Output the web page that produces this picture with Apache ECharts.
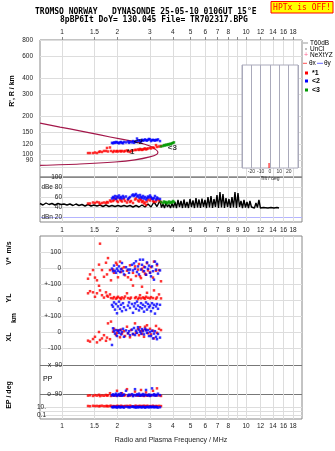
<!DOCTYPE html>
<html>
<head>
<meta charset="utf-8">
<script src="https://cdn.jsdelivr.net/npm/echarts@6/dist/echarts.min.js"></script>
<style>
html,body{margin:0;padding:0;background:#fff}
#chart{width:335px;height:451px}
</style>
</head>
<body>
<div id="chart"></div>
<script>
// Frequency axis ticks (MHz)
const freqTicks = [1, 1.5, 2, 3, 4, 5, 6, 7, 8, 10, 12, 14, 16, 18];
const freqTicksMid = [1, 1.5, 2, 3, 4, 5, 6, 7, 8, 9, 10, 12, 14, 16, 18];
const rangeTicks = [80, 90, 100, 120, 150, 200, 300, 400, 600, 800];
const dbTicks = [20, 40, 60, 80, 100];
const dbTickText = {20: 'dBn 20', 40: '40', 60: '60', 80: 'dBe 80', 100: '100'};

// O-mode echoes (*1)
const redFreq = [1.385,1.420,1.474,1.511,1.549,1.589,1.609,1.649,1.691,1.734,1.756,1.778,1.823,1.846,1.893,1.917,1.965,1.990,2.015,2.066,2.092,2.118,2.172,2.200,2.255,2.284,2.341,2.371,2.431,2.493,2.524,2.588,2.620,2.654,2.687,2.721,2.755,2.790,2.825,2.861,2.897,2.933,3.008,3.045,3.122,3.161,3.242,3.282,3.366,3.451];
const redRange = [103,103,103,104,103,105,106,105,107,107,113,106,114,107,105,107,106,107,106,107,106,107,106,107,108,106,105,107,108,109,109,110,109,111,110,109,110,111,112,110,111,112,113,112,114,113,119,115,116,117];
const redAmp = [47,47,49,48,50,49,46,48,49,48,50,49,53,51,52,54,57,52,50,55,53,51,56,52,49,54,50,52,48,55,57,53,51,56,54,50,52,47,49,44,51,55,53,57,52,50,51,55,53,50];
const redVs = [-67,-40,-13,-60,-77,21,152,-13,-55,33,-40,62,-13,-77,-10,-30,33,21,-58,40,-25,-4,5,-45,-17,-58,17,-73,-30,10,-50,-10,25,-52,-63,-5,-21,8,-35,-42,30,-15,-28,5,-60,40,-17,17,-13,-83];
const redYL = [42,55,48,20,42,89,60,30,15,48,27,21,35,12,10,18,8,14,20,12,6,16,10,22,42,12,8,15,90,12,18,6,14,30,10,83,16,12,8,20,45,14,10,18,12,60,8,16,35,10];
const redXL = [-54,-60,-44,-30,-65,0,-50,-40,-20,-55,-35,54,-45,65,2,20,-19,-5,10,-33,15,-10,5,-25,33,-8,-33,12,-15,54,-5,18,-20,30,5,-12,10,-30,33,15,42,-8,20,-15,8,-40,38,-5,20,12];
const redPP = [-100,-98,-102,-97,-100,-95,-103,-99,-101,-96,-100,-98,-85,-102,-97,-99,-100,-70,-96,-101,-98,-85,-100,-97,-60,-102,-99,-95,-100,-75,-98,-101,-97,-100,-65,-99,-96,-102,-98,-80,-100,-97,-101,-99,-70,-96,-100,-55,-98,-102];
const redEP = [18,16,20,17,19,15,18,21,16,17,19,15,18,20,16,17,15,19,18,16,20,17,15,18,19,16,21,17,15,18,20,16,17,19,15,18,16,20,17,15,19,18,16,17,21,15,18,16,19,17];

// X-mode echoes (<2)
const blueFreq = [1.869,1.893,1.917,1.941,1.965,1.990,2.015,2.041,2.066,2.092,2.118,2.145,2.172,2.227,2.284,2.313,2.341,2.401,2.431,2.462,2.493,2.524,2.556,2.588,2.620,2.654,2.687,2.721,2.755,2.790,2.825,2.861,2.897,2.933,2.970,3.008,3.045,3.084,3.122,3.161,3.200,3.242,3.282,3.324,3.408];
const blueRange = [124,123,125,124,126,125,124,123,125,126,124,123,126,125,127,124,126,125,128,124,127,126,134,129,130,128,127,131,129,130,132,130,129,131,133,132,128,130,131,130,129,131,130,132,128];
const blueAmp = [57,60,58,62,56,61,59,63,58,60,57,62,59,61,56,58,60,63,65,62,64,66,61,63,59,64,60,58,62,57,60,55,58,61,59,63,60,57,56,58,62,55,59,57,56];
const blueVs = [-4,-20,15,-17,-30,-4,-17,10,-25,-8,31,-20,-40,5,-10,-30,-10,20,-15,29,-5,42,-25,10,-40,52,-10,20,52,-20,5,-42,35,-5,15,-30,-52,10,-20,-73,40,-10,25,-35,-15];
const blueYL = [-31,-42,-15,-60,-25,-83,-40,-10,-55,-30,-70,-20,-45,-62,-35,-15,-50,-25,-80,-40,-21,-55,-10,-35,-65,-45,-20,-52,-30,-73,-40,-15,-60,-25,-45,-35,-70,-20,-50,-30,-85,-40,-25,-55,-30];
const blueXL = [-81,23,5,-10,12,-25,8,-5,12,-15,0,20,-30,10,-8,5,-20,15,-12,25,-19,8,-5,30,15,2,-10,18,5,-15,20,10,-5,12,-25,0,-25,8,-40,-10,5,-30,-45,-12,-35];
const bluePP = [-98,-92,-100,-95,-88,-102,-97,-90,-99,-85,-101,-96,-93,-70,-100,-94,-98,-91,-103,-96,-60,-99,-92,-97,-88,-101,-95,-98,-90,-100,-94,-65,-97,-99,-93,-102,-96,-55,-98,-91,-100,-95,-99,-88,-97];
const blueEP = [10,8,12,9,11,7,10,13,8,9,11,10,7,12,9,10,8,11,13,9,10,7,12,8,10,11,9,8,12,10,7,9,11,10,8,13,9,10,12,8,11,9,10,7,9];

// Third trace (<3)
const greenFreq = [3.451,3.538,3.583,3.628,3.673,3.720,3.767,3.814,3.862,3.911,3.960,4.010,4.060];
const greenRange = [116,117,119,118,120,119,121,120,122,121,123,124,125];
const greenAmp = [50,48,51,49,50,47,49,51,48,50,49,52,50];

// Trace identifiers
const traceLabels = ['*1', '<2', '<3'];
const traceFreq = [2.36, 2.60, 3.98];
const traceRange = [105, 126, 113];

// Model trace (virtual range vs frequency)
const modelFreq = [0.76,0.975,1.25,1.61,2.07,2.65,3.0,3.2,3.32,3.28,3.0,2.49,1.94,1.25,0.76];
const modelRange = [177,165,154,143,133,124,117,111,105,101,96,91,87.6,84.5,82.5];

// Noise amplitude (dB) vs frequency
const noiseFreq = [0.759,0.788,0.819,0.850,0.882,0.916,0.951,0.988,1.025,1.065,1.105,1.148,1.191,1.237,1.284,1.334,1.385,1.438,1.492,1.549,1.609,1.670,1.734,1.800,1.869,1.941,2.015,2.092,2.172,2.255,2.341,2.431,2.524,2.620,2.721,2.825,2.933,3.045,3.161,3.282,
  3.408,3.473,3.538,3.605,3.673,3.743,3.814,3.886,3.960,4.035,4.111,4.189,4.268,4.349,4.432,4.516,4.601,4.688,4.777,4.868,4.960,5.054,5.149,5.247,5.346,5.448,5.551,5.656,5.763,5.872,5.983,6.097,6.212,6.330,6.450,6.573,6.696,6.823,6.952,7.084,7.218,7.355,7.494,7.636,7.781,7.929,8.078,8.231,8.387,8.546,8.708,8.873,9.041,9.213,9.386,9.564,9.745,9.930,10.12,10.31,10.50,10.70,10.90,11.11,11.32,11.53,11.75,11.97,12.20,12.43,
  12.67,13.15,13.66,14.18,14.72,15.10];
const noiseDb = [47,44,48,45,47,44,47,45,46,44,46,43,46,43,45,42,45,42,44,42,44,41,44,41,43,41,43,41,43,41,43,40,43,40,44,40,46,40,50,41,
  53,39,46,38,48,40,45,38,47,39,50,38,54,40,52,38,55,39,50,38,56,40,53,38,58,39,55,38,57,40,54,38,60,39,62,38,56,40,64,38,70,39,66,38,58,40,56,38,60,39,70,38,68,40,52,38,54,39,50,38,52,40,44,38,48,39,54,38,42,39,
  39,38,39,38,39,38];

// Tilt marker
const tiltValues = [-1];

const FONT = '"Liberation Sans", Arial, sans-serif';
const FMIN = 0.7595, FMAX = 20.14;
const zip = (xs, ys) => xs.map((x, i) => [x, ys[i]]);

function fAxis(gi, extra) {
  return Object.assign({
    type: 'log', logBase: 10, gridIndex: gi, min: FMIN, max: FMAX,
    axisLine: {show: false}, axisTick: {show: false}, axisLabel: {show: false},
    splitLine: {show: false}
  }, extra);
}
const lbl = (extra) => Object.assign({show: true, fontSize: 6.5, color: '#222', fontFamily: FONT}, extra);
const grid = (extra) => Object.assign({show: false, containLabel: false}, extra);

function pts(xi, data, color, z) {
  return {type: 'scatter', xAxisIndex: xi, yAxisIndex: xi, data, symbol: 'rect',
    symbolSize: [2.5, 2.5], itemStyle: {color}, silent: true, z: z || 4};
}

const chart = echarts.init(document.getElementById('chart'), null, {renderer: 'canvas'});

const option = {
  animation: false,
  backgroundColor: '#fff',
  grid: [
    grid({left: 40, top: 40, width: 262, height: 137, show: true, borderColor: '#888', borderWidth: 1}),
    grid({left: 40, top: 177, width: 262, height: 45, show: true, borderColor: '#888', borderWidth: 1}),
    grid({left: 40, top: 236, width: 262, height: 183, show: true, borderColor: '#888', borderWidth: 1}),
    grid({left: 40, top: 236, width: 262, height: 48}),
    grid({left: 40, top: 284, width: 262, height: 32}),
    grid({left: 40, top: 316, width: 262, height: 32}),
    grid({left: 40, top: 348, width: 262, height: 52}),
    grid({left: 40, top: 400, width: 262, height: 19}),
    grid({left: 242, top: 65, width: 56, height: 103, show: true, borderColor: '#aab', borderWidth: 1, backgroundColor: '#fff', z: 5})
  ],
  xAxis: [
    fAxis(0, {position: 'top',
      axisTick: {show: true, customValues: freqTicksMid, length: 3, lineStyle: {color: '#888'}},
      axisLabel: lbl({customValues: freqTicks, margin: 4, formatter: v => String(v)}),
      splitLine: {show: true, lineStyle: {color: '#ddd', width: 1}}}),
    fAxis(1, {position: 'bottom',
      axisTick: {show: false, customValues: freqTicksMid},
      axisLabel: lbl({customValues: freqTicksMid, margin: 5, formatter: v => String(v)}),
      splitLine: {show: true, lineStyle: {color: '#ddd', width: 1}}}),
    fAxis(2, {position: 'bottom',
      axisTick: {show: false, customValues: freqTicksMid},
      axisLabel: lbl({customValues: freqTicks, margin: 4, formatter: v => String(v)}),
      name: 'Radio and Plasma Frequency / MHz', nameLocation: 'middle', nameGap: 18,
      nameTextStyle: {fontSize: 7, color: '#222', fontFamily: FONT},
      splitLine: {show: true, lineStyle: {color: '#ddd', width: 1}}}),
    fAxis(3), fAxis(4), fAxis(5), fAxis(6), fAxis(7),
    {type: 'value', gridIndex: 8, min: -30, max: 30, interval: 10, z: 6,
      axisLine: {show: false}, axisTick: {show: false},
      axisLabel: {show: true, fontSize: 5, color: '#333', fontFamily: FONT, margin: 1,
        showMinLabel: false, showMaxLabel: false},
      splitLine: {show: true, lineStyle: {color: '#aab'}},
      name: 'Tilt / deg', nameLocation: 'middle', nameGap: 8,
      nameTextStyle: {fontSize: 5, color: '#333', fontFamily: FONT}}
  ],
  yAxis: [
    {type: 'log', logBase: 10, gridIndex: 0, min: 66.73, max: 800,
      axisLine: {show: false}, axisTick: {show: false, customValues: rangeTicks},
      axisLabel: lbl({customValues: rangeTicks, margin: 7, formatter: v => String(v)}),
      splitLine: {show: true, lineStyle: {color: '#ddd'}}},
    {type: 'value', gridIndex: 1, min: 10, max: 100,
      axisLine: {show: false}, axisTick: {show: false, customValues: dbTicks},
      axisLabel: lbl({customValues: dbTicks, margin: -22, formatter: v => dbTickText[v]}),
      splitLine: {show: true, lineStyle: {color: ['#b4b4ff', '#ddd', '#ddd', '#ddd', '#888']}}},
    {type: 'value', gridIndex: 2, min: 0, max: 1, show: false},
    {type: 'value', gridIndex: 3, min: -100, max: 200,
      axisLine: {show: false}, axisTick: {show: false, customValues: [0, 100]},
      axisLabel: lbl({customValues: [0, 100], margin: -21}),
      splitLine: {show: true, lineStyle: {color: '#ddd'}}},
    {type: 'value', gridIndex: 4, min: -100, max: 100,
      axisLine: {show: false}, axisTick: {show: false, customValues: [-100, 0, 100]},
      axisLabel: lbl({customValues: [-100, 0, 100], margin: -21, formatter: v => v === 0 ? '0' : '+-100'}),
      splitLine: {show: true, lineStyle: {color: '#ddd'}}},
    {type: 'value', gridIndex: 5, min: -100, max: 100,
      axisLine: {show: false}, axisTick: {show: false, customValues: [-100, 0]},
      axisLabel: lbl({customValues: [-100, 0], margin: -21}),
      splitLine: {show: true, lineStyle: {color: '#ddd'}}},
    {type: 'value', gridIndex: 6, min: -127.2, max: 195.5,
      axisLine: {show: false}, axisTick: {show: false, customValues: [-90, 90]},
      axisLabel: lbl({customValues: [-90, 90], margin: -22, formatter: v => v > 0 ? 'x  90' : 'o -90'}),
      splitLine: {show: true, lineStyle: {color: '#777'}}},
    {type: 'log', logBase: 10, gridIndex: 7, min: 0.01, max: 562.3,
      axisLine: {show: false}, axisTick: {show: false, customValues: [0.1, 1, 10]},
      axisLabel: lbl({customValues: [0.1, 10], margin: -6, formatter: v => v === 10 ? '10.' : '0.1'}),
      splitLine: {show: true, lineStyle: {color: '#ddd'}}},
    {type: 'value', gridIndex: 8, min: 0, max: 1, show: false}
  ],
  series: [
    {type: 'line', xAxisIndex: 0, yAxisIndex: 0, data: zip(modelFreq, modelRange),
      showSymbol: false, smooth: 0.3, lineStyle: {color: '#a3174a', width: 1.2}, silent: true, z: 3},
    pts(0, zip(blueFreq, blueRange), '#0000ff'),
    pts(0, zip(redFreq, redRange), '#ff0000'),
    pts(0, zip(greenFreq, greenRange), '#009900'),
    {type: 'scatter', xAxisIndex: 0, yAxisIndex: 0, symbolSize: 0, silent: true, z: 6,
      data: traceLabels.map((t, i) => ({name: t, value: [traceFreq[i], traceRange[i]]})),
      label: {show: true, position: 'inside', formatter: p => p.name, color: '#000',
        fontSize: 8, fontWeight: 'bold', fontFamily: FONT}},
    {type: 'line', xAxisIndex: 1, yAxisIndex: 1, data: zip(noiseFreq, noiseDb),
      showSymbol: false, lineStyle: {color: '#000', width: 1.4}, silent: true, z: 3},
    pts(1, zip(redFreq, redAmp), '#ff0000'),
    pts(1, zip(blueFreq, blueAmp), '#0000ff'),
    pts(1, zip(greenFreq, greenAmp), '#009900'),
    pts(3, zip(redFreq, redVs), '#ff0000'),
    pts(3, zip(blueFreq, blueVs), '#0000ff'),
    pts(4, zip(redFreq, redYL), '#ff0000'),
    pts(4, zip(blueFreq, blueYL), '#0000ff'),
    pts(5, zip(redFreq, redXL), '#ff0000'),
    pts(5, zip(blueFreq, blueXL), '#0000ff'),
    pts(6, zip(redFreq, redPP), '#ff0000'),
    pts(6, zip(blueFreq, bluePP), '#0000ff'),
    pts(7, zip(redFreq, redEP), '#ff0000'),
    pts(7, zip(blueFreq, blueEP), '#0000ff'),
    {type: 'scatter', xAxisIndex: 8, yAxisIndex: 8, data: tiltValues.map(t => [t, 0.025]),
      symbol: 'rect', symbolSize: [1.3, 5], itemStyle: {color: '#ff0000'}, silent: true, z: 7}
  ],
  graphic: [
    {type: 'text', x: 35, y: 11.5, style: {text: 'TROMSO NORWAY   DYNASONDE 25-05-10 0106UT 15°E',
      font: 'bold 8px "DejaVu Sans Mono"', fill: '#000', verticalAlign: 'middle'}},
    {type: 'text', x: 60, y: 19.7, style: {text: '8pBP6It DoY= 130.045 File= TR702317.BPG',
      font: 'bold 8px "DejaVu Sans Mono"', fill: '#000', verticalAlign: 'middle'}},
    {type: 'rect', shape: {x: 271, y: 1.5, width: 62, height: 11.5},
      style: {fill: '#ffff00', stroke: '#ff0000', lineWidth: 1}},
    {type: 'text', x: 302, y: 7.5, style: {text: 'HPTx is OFF!', font: '8px "DejaVu Sans Mono"',
      fill: '#ff0000', align: 'center', verticalAlign: 'middle'}},
    // legend
    {type: 'line', shape: {x1: 303, y1: 43, x2: 308, y2: 43}, style: {stroke: '#999', lineWidth: 1}},
    {type: 'text', x: 310, y: 43, style: {text: 'T60dB', font: '6.5px ' + FONT, fill: '#000', verticalAlign: 'middle'}},
    {type: 'rect', shape: {x: 305.5, y: 48.5, width: 1, height: 1}, style: {fill: '#000'}},
    {type: 'text', x: 310, y: 49, style: {text: 'UnCl', font: '6.5px ' + FONT, fill: '#000', verticalAlign: 'middle'}},
    {type: 'text', x: 306, y: 55.3, style: {text: '+', font: '7px ' + FONT, fill: '#ff5c8a', align: 'center', verticalAlign: 'middle'}},
    {type: 'text', x: 310, y: 55.3, style: {text: 'NeXtYZ', font: '6.5px ' + FONT, fill: '#000', verticalAlign: 'middle'}},
    {type: 'line', shape: {x1: 303, y1: 63.3, x2: 307, y2: 63.3}, style: {stroke: '#ff5050', lineWidth: 1}},
    {type: 'text', x: 309, y: 63.3, style: {text: 'θx', font: '6.5px ' + FONT, fill: '#000', verticalAlign: 'middle'}},
    {type: 'line', shape: {x1: 317, y1: 63.3, x2: 323, y2: 63.3}, style: {stroke: '#6a6aff', lineWidth: 1}},
    {type: 'text', x: 324, y: 63.3, style: {text: 'θy', font: '6.5px ' + FONT, fill: '#000', verticalAlign: 'middle'}},
    {type: 'rect', shape: {x: 305, y: 71.5, width: 3, height: 3}, style: {fill: '#ff0000'}},
    {type: 'text', x: 312, y: 73, style: {text: '*1', font: 'bold 7px ' + FONT, fill: '#000', verticalAlign: 'middle'}},
    {type: 'rect', shape: {x: 305, y: 79.5, width: 3, height: 3}, style: {fill: '#0000ff'}},
    {type: 'text', x: 312, y: 81, style: {text: '<2', font: 'bold 7px ' + FONT, fill: '#000', verticalAlign: 'middle'}},
    {type: 'rect', shape: {x: 305, y: 88.5, width: 3, height: 3}, style: {fill: '#009900'}},
    {type: 'text', x: 312, y: 90, style: {text: '<3', font: 'bold 7px ' + FONT, fill: '#000', verticalAlign: 'middle'}},
    // axis titles
    {type: 'text', x: 12, y: 91, rotation: Math.PI / 2, style: {text: "R', R / km", font: 'bold 7px ' + FONT,
      fill: '#000', align: 'center', verticalAlign: 'middle'}},
    {type: 'text', x: 9, y: 253, rotation: Math.PI / 2, style: {text: 'V*  m/s', font: 'bold 7px ' + FONT,
      fill: '#000', align: 'center', verticalAlign: 'middle'}},
    {type: 'text', x: 9, y: 298, rotation: Math.PI / 2, style: {text: 'YL', font: 'bold 7px ' + FONT,
      fill: '#000', align: 'center', verticalAlign: 'middle'}},
    {type: 'text', x: 14, y: 318, rotation: Math.PI / 2, style: {text: 'km', font: 'bold 7px ' + FONT,
      fill: '#000', align: 'center', verticalAlign: 'middle'}},
    {type: 'text', x: 9, y: 337, rotation: Math.PI / 2, style: {text: 'XL', font: 'bold 7px ' + FONT,
      fill: '#000', align: 'center', verticalAlign: 'middle'}},
    {type: 'text', x: 43, y: 379, style: {text: 'PP', font: '7px ' + FONT, fill: '#000', verticalAlign: 'middle'}},
    {type: 'text', x: 9, y: 395, rotation: Math.PI / 2, style: {text: 'EP / deg', font: 'bold 7px ' + FONT,
      fill: '#000', align: 'center', verticalAlign: 'middle'}}
  ]
};
chart.setOption(option);
</script>
</body>
</html>
